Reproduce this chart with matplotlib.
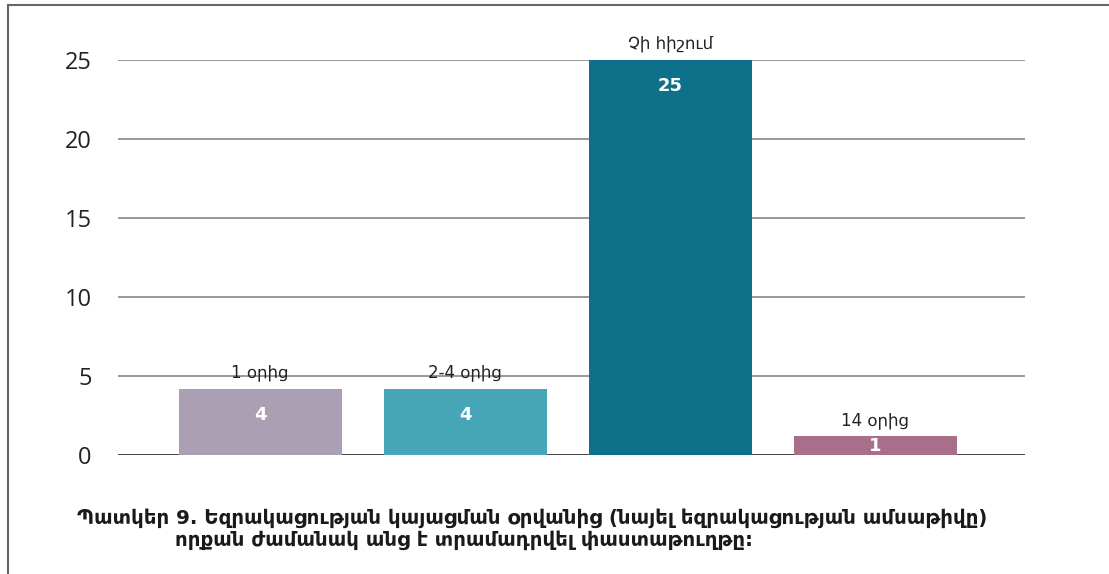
import matplotlib
matplotlib.use('Agg')
import matplotlib.pyplot as plt
from matplotlib.lines import Line2D

categories = ['1 օրից', '2-4 օրից', 'Չի հիշում', '14 օրից']
values = [4.2, 4.2, 25, 1.2]
value_labels = ['4', '4', '25', '1']
colors = ['#ab9fb3', '#47a5b8', '#0f7189', '#a96f8a']
yticks = [0, 5, 10, 15, 20, 25]
caption_1 = 'Պատկեր 9. Եզրակացության կայացման օրվանից (նայել եզրակացության ամսաթիվը)'
caption_2 = 'որքան ժամանակ անց է տրամադրվել փաստաթուղթը:'

plt.rcParams['font.family'] = ['DejaVu Sans']

fig = plt.figure(figsize=(11.09, 5.74), dpi=100)
ax = fig.add_axes([0.1064, 0.2073, 0.818, 0.6882])

x = list(range(len(categories)))
ax.bar(x, values, width=0.795, color=colors, zorder=3)

for xi, v, lab, cat in zip(x, values, value_labels, categories):
    ax.text(xi, v + 0.45, cat, ha='center', va='bottom', fontsize=12,
            color='#222222', clip_on=False)
    ypos = v - 1.65 if v > 3 else v / 2
    ax.text(xi, ypos, lab, ha='center', va='center', fontsize=13,
            fontweight='bold', color='white', zorder=4)

ax.set_xlim(-0.693, 3.73)
ax.set_ylim(0, 25)
ax.set_yticks(yticks)
ax.set_yticklabels([str(t) for t in yticks], fontsize=17, color='#222222',
                   family=['Open Sans', 'DejaVu Sans'])
ax.set_xticks([])
ax.tick_params(axis='y', length=0, pad=19)
for s in ax.spines.values():
    s.set_visible(False)
for t in yticks:
    ax.axhline(t, color='#222222' if t == 0 else '#888888', lw=1.2, zorder=1)

fig.text(77 / 1109, 1 - 518 / 574, caption_1, fontsize=14.2, fontweight='bold',
         color='#1a1a1a', va='center', ha='left')
fig.text(175 / 1109, 1 - 540 / 574, caption_2, fontsize=14.2, fontweight='bold',
         color='#1a1a1a', va='center', ha='left')

# frame on left and top
fig.add_artist(Line2D([7.5 / 1109, 7.5 / 1109], [0, 1 - 5 / 574],
                      transform=fig.transFigure, color='#666666', lw=1.5))
fig.add_artist(Line2D([7.5 / 1109, 1], [1 - 5 / 574, 1 - 5 / 574],
                      transform=fig.transFigure, color='#666666', lw=1.5))

fig.savefig('out.png', dpi=100)
plt.close(fig)
